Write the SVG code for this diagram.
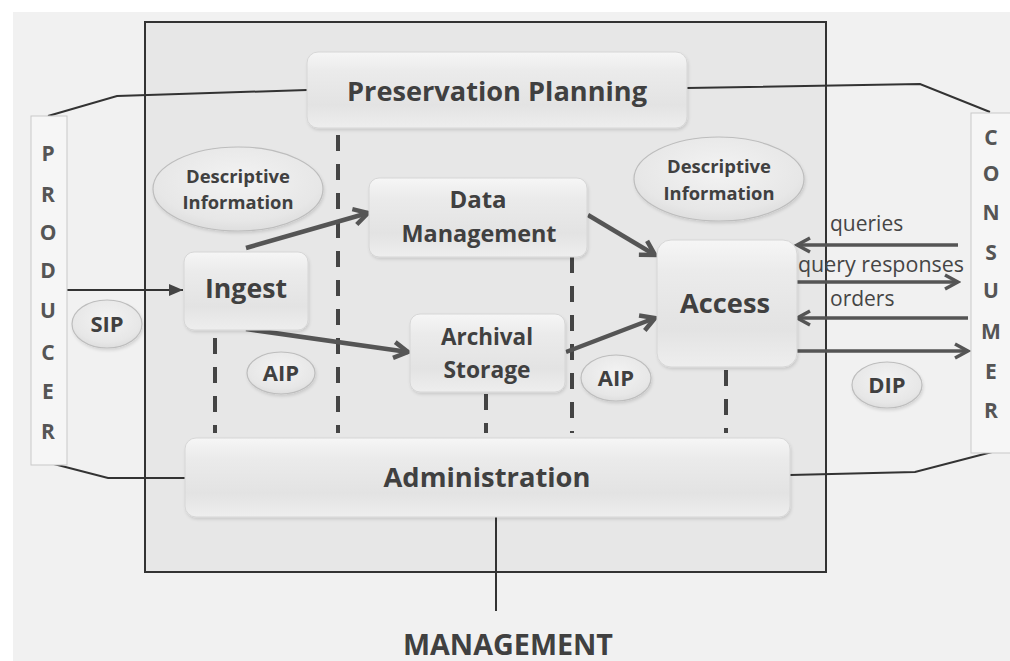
<svg xmlns="http://www.w3.org/2000/svg" width="1010" height="661" viewBox="0 0 1010 661">
<defs>
<style>
.lbl{font-family:"Open Sans","Noto Sans","Liberation Sans",sans-serif;font-weight:700;fill:#404040;text-anchor:middle}
.side{font-family:"Open Sans","Noto Sans","Liberation Sans",sans-serif;font-weight:700;fill:#555;font-size:21px;text-anchor:middle}
.flow{font-family:"Open Sans","Noto Sans","Liberation Sans",sans-serif;font-weight:400;fill:#454545;font-size:21px}
.box{fill:url(#boxg);stroke:#d6d6d6;stroke-width:1;filter:url(#sh)}
.ell{fill:url(#ellg);stroke:#bdbdbd;stroke-width:1.2;filter:url(#sh)}
.line{fill:none;stroke:#333;stroke-width:2}
.arrow{fill:none;stroke:#555;stroke-width:4.5}
.arrow2{fill:none;stroke:#555;stroke-width:3.5}
.dash{fill:none;stroke:#444;stroke-width:4;stroke-dasharray:16 13}
</style>
<linearGradient id="boxg" x1="0" y1="0" x2="0" y2="1">
<stop offset="0" stop-color="#f6f6f6"/>
<stop offset="0.25" stop-color="#ebebeb"/>
<stop offset="0.7" stop-color="#e3e3e3"/>
<stop offset="1" stop-color="#eeeeee"/>
</linearGradient>
<radialGradient id="ellg" cx="0.5" cy="0.4" r="0.6">
<stop offset="0" stop-color="#f3f3f3"/>
<stop offset="0.8" stop-color="#e7e7e7"/>
<stop offset="1" stop-color="#dedede"/>
</radialGradient>
<filter id="sh" x="-10%" y="-10%" width="120%" height="130%">
<feDropShadow dx="1" dy="2" stdDeviation="1.5" flood-color="#000" flood-opacity="0.12"/>
</filter>
<marker id="chev" viewBox="0 0 22 22" refX="19" refY="11" markerWidth="22" markerHeight="22" markerUnits="userSpaceOnUse" orient="auto">
<path d="M5,3 L19,11 L5,19" fill="none" stroke="#555" stroke-width="4.5"/>
</marker>
<marker id="chev2" viewBox="0 0 22 22" refX="19" refY="11" markerWidth="22" markerHeight="22" markerUnits="userSpaceOnUse" orient="auto">
<path d="M6,4 L19,11 L6,18" fill="none" stroke="#555" stroke-width="3.5"/>
</marker>
<marker id="tri" viewBox="0 0 14 12" refX="14" refY="6" markerWidth="14" markerHeight="12" markerUnits="userSpaceOnUse" orient="auto">
<path d="M0,0 L14,6 L0,12 z" fill="#444"/>
</marker>
</defs>

<rect x="0" y="0" width="1010" height="661" fill="#ffffff"/>
<rect x="13" y="12" width="997" height="649" fill="#f1f1f1"/>

<g id="archive-frame">
<rect x="145" y="22" width="681" height="550" fill="#e7e7e7" stroke="#333" stroke-width="2"/>
</g>

<g id="connectors">
<path class="dash" d="M215,338 V433"/>
<path class="dash" d="M338,135 V433"/>
<path class="dash" d="M572,257 V433"/>
<path class="dash" d="M486,394 V433"/>
<path class="dash" d="M726,370 V433"/>

<path class="line" d="M48,116 L117,96 L307,90"/>
<path class="line" d="M687,88 L920,84 L990,112"/>
<path class="line" d="M185,478 L108,478 L50,463"/>
<path class="line" d="M790,475 L915,472 L992,452"/>
<path class="line" d="M496,517 V611" stroke-width="2.5"/>

<path class="line" d="M67,290 H183" stroke-width="2.5" marker-end="url(#tri)"/>

<path class="arrow" d="M246,248 L368,213" marker-end="url(#chev)"/>
<path class="arrow" d="M246,329 L408,352" marker-end="url(#chev)"/>
<path class="arrow" d="M588,215 L655,255" marker-end="url(#chev)"/>
<path class="arrow" d="M566,352 L655,318" marker-end="url(#chev)"/>

<path class="arrow2" d="M958,245 H797" marker-end="url(#chev2)"/>
<path class="arrow2" d="M797,282 H958" marker-end="url(#chev2)"/>
<path class="arrow2" d="M968,318 H797" marker-end="url(#chev2)"/>
<path class="arrow2" d="M797,351 H968" marker-end="url(#chev2)"/>
</g>

<g id="producer">
<rect x="31" y="116" width="36" height="349" fill="#f6f6f6" stroke="#c9c9c9" stroke-width="1"/>
<text class="side" x="48" y="161">P</text>
<text class="side" x="48" y="202">R</text>
<text class="side" x="48" y="240">O</text>
<text class="side" x="48" y="278">D</text>
<text class="side" x="48" y="318">U</text>
<text class="side" x="48" y="360">C</text>
<text class="side" x="48" y="399">E</text>
<text class="side" x="48" y="439">R</text>
</g>

<g id="consumer">
<rect x="971" y="113" width="40" height="340" fill="#f6f6f6" stroke="#c9c9c9" stroke-width="1"/>
<text class="side" x="991" y="145">C</text>
<text class="side" x="991" y="181">O</text>
<text class="side" x="991" y="220">N</text>
<text class="side" x="991" y="260">S</text>
<text class="side" x="991" y="298">U</text>
<text class="side" x="991" y="339">M</text>
<text class="side" x="991" y="379">E</text>
<text class="side" x="991" y="418">R</text>
</g>

<g id="preservation-planning">
<rect class="box" x="307" y="52" width="380" height="76" rx="11"/>
<text class="lbl" x="497" y="101" font-size="27" textLength="300" lengthAdjust="spacingAndGlyphs">Preservation Planning</text>
</g>

<g id="descriptive-info-left">
<ellipse class="ell" cx="238" cy="189" rx="85" ry="42"/>
<text class="lbl" x="238" y="183" font-size="18.5" textLength="104" lengthAdjust="spacingAndGlyphs">Descriptive</text>
<text class="lbl" x="238" y="209" font-size="18.5" textLength="111" lengthAdjust="spacingAndGlyphs">Information</text>
</g>

<g id="descriptive-info-right">
<ellipse class="ell" cx="719" cy="179" rx="85" ry="42"/>
<text class="lbl" x="719" y="173" font-size="18.5" textLength="104" lengthAdjust="spacingAndGlyphs">Descriptive</text>
<text class="lbl" x="719" y="200" font-size="18.5" textLength="111" lengthAdjust="spacingAndGlyphs">Information</text>
</g>

<g id="data-management">
<rect class="box" x="369" y="178" width="218" height="79" rx="10"/>
<text class="lbl" x="478" y="208" font-size="24">Data</text>
<text class="lbl" x="479" y="242" font-size="24" textLength="155" lengthAdjust="spacingAndGlyphs">Management</text>
</g>

<g id="ingest">
<rect class="box" x="184" y="252" width="124" height="78" rx="10"/>
<text class="lbl" x="246" y="298" font-size="27" textLength="82" lengthAdjust="spacingAndGlyphs">Ingest</text>
</g>

<g id="access">
<rect class="box" x="657" y="240" width="140" height="127" rx="14"/>
<text class="lbl" x="725" y="313" font-size="27" textLength="90" lengthAdjust="spacingAndGlyphs">Access</text>
</g>

<g id="archival-storage">
<rect class="box" x="410" y="314" width="155" height="78" rx="10"/>
<text class="lbl" x="487" y="345" font-size="23" textLength="92" lengthAdjust="spacingAndGlyphs">Archival</text>
<text class="lbl" x="487" y="378" font-size="23" textLength="87" lengthAdjust="spacingAndGlyphs">Storage</text>
</g>

<g id="sip">
<ellipse class="ell" cx="107" cy="324" rx="35" ry="24"/>
<text class="lbl" x="107" y="332" font-size="22">SIP</text>
</g>

<g id="aip-left">
<ellipse class="ell" cx="281" cy="373" rx="34" ry="21"/>
<text class="lbl" x="281" y="381" font-size="22">AIP</text>
</g>

<g id="aip-right">
<ellipse class="ell" cx="616" cy="378" rx="35" ry="23"/>
<text class="lbl" x="616" y="386" font-size="22">AIP</text>
</g>

<g id="dip">
<ellipse class="ell" cx="887" cy="385" rx="35" ry="23"/>
<text class="lbl" x="887" y="393" font-size="22">DIP</text>
</g>

<g id="administration">
<rect class="box" x="185" y="438" width="605" height="79" rx="11"/>
<text class="lbl" x="487" y="487" font-size="27" textLength="207" lengthAdjust="spacingAndGlyphs">Administration</text>
</g>

<g id="flow-labels">
<text class="flow" x="830" y="231">queries</text>
<text class="flow" x="798" y="272" textLength="166" lengthAdjust="spacingAndGlyphs">query responses</text>
<text class="flow" x="830" y="306">orders</text>
</g>

<g id="management">
<text class="lbl" x="508" y="655" font-size="28" textLength="210" lengthAdjust="spacingAndGlyphs">MANAGEMENT</text>
</g>
</svg>
